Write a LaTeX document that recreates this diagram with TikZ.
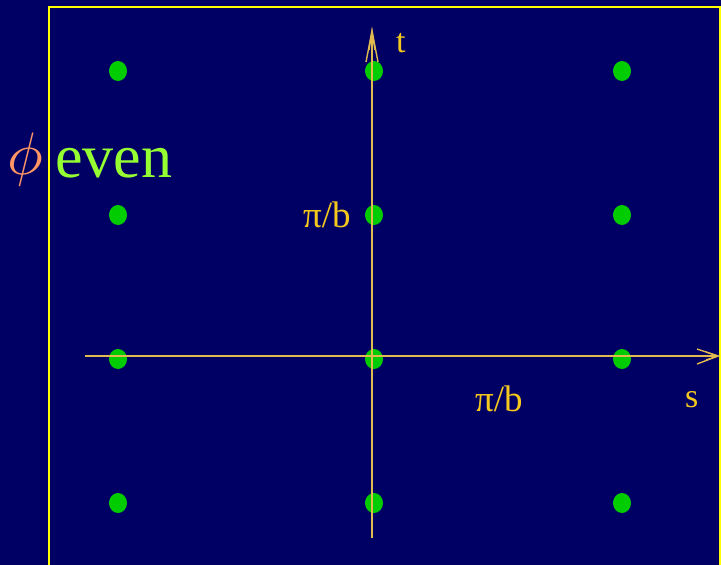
\documentclass[tikz,border=0pt]{standalone}
\usepackage{fontspec}
\setmainfont{Liberation Serif}
\definecolor{bgnavy}{RGB}{0,0,100}
\definecolor{frameyel}{RGB}{255,255,0}
\definecolor{axiscol}{RGB}{222,186,80}
\definecolor{labcol}{RGB}{245,200,30}
\definecolor{dotgreen}{RGB}{0,204,0}
\definecolor{phicol}{RGB}{255,150,100}
\definecolor{evencol}{RGB}{150,255,50}
\usetikzlibrary{shapes.geometric}
\tikzset{
  latdot/.style={ellipse, fill=dotgreen, minimum width=18pt, minimum height=20pt, inner sep=0pt},
  axisline/.style={draw=axiscol, line width=1.6pt},
  lab/.style={text=labcol, inner sep=0pt, anchor=base west, font=\fontsize{37}{37}\selectfont},
}
\begin{document}
\begin{tikzpicture}[x=1pt,y=-1pt]
\useasboundingbox (0,0) rectangle (721,565);
\fill[bgnavy] (0,0) rectangle (721,565);
\draw[frameyel, line width=2pt] (49,570) -- (49,7) -- (720,7) -- (720,570);
% lattice dots
\foreach \c/\x in {a/118,b/374,c/622}{
  \foreach \r/\y in {1/71,2/215,3/359,4/503}{
    \node[latdot] (\c\r) at (\x,\y) {};
  }
}
% axes
\coordinate (sl) at (85,356);
\coordinate (sr) at (718,356);
\coordinate (tb) at (372,538);
\coordinate (tt) at (372,31);
\draw[axisline] (sl) -- (sr);
\draw[axisline] (tb) -- (tt);
% arrowheads (open chevrons)
\draw[axiscol, line width=1.4pt] (697,349) -- (sr) -- (697,364);
\draw[axiscol, line width=1.4pt] (706,352) -- (sr) -- (706,360);
\draw[axiscol, line width=1.4pt] (366,62) -- (tt) -- (378,62);
\draw[axiscol, line width=1.4pt] (369,50) -- (tt) -- (375,50);
% labels
\node[lab, font=\fontsize{34}{34}\selectfont] (tlab) at (396,52) {t};
\node[lab] (pib1) at (303,227) {π/b};
\node[lab] (pib2) at (475,411) {π/b};
\node[lab, font=\fontsize{34}{34}\selectfont] (slab) at (685,407) {s};
\node[inner sep=0pt, anchor=base west, text=phicol] (phi) at (7,174) {\scalebox{6}{$\phi$}};
\node[inner sep=0pt, anchor=base west, text=evencol, font=\fontsize{62}{62}\selectfont] (even) at (55,177) {even};
\end{tikzpicture}
\end{document}
